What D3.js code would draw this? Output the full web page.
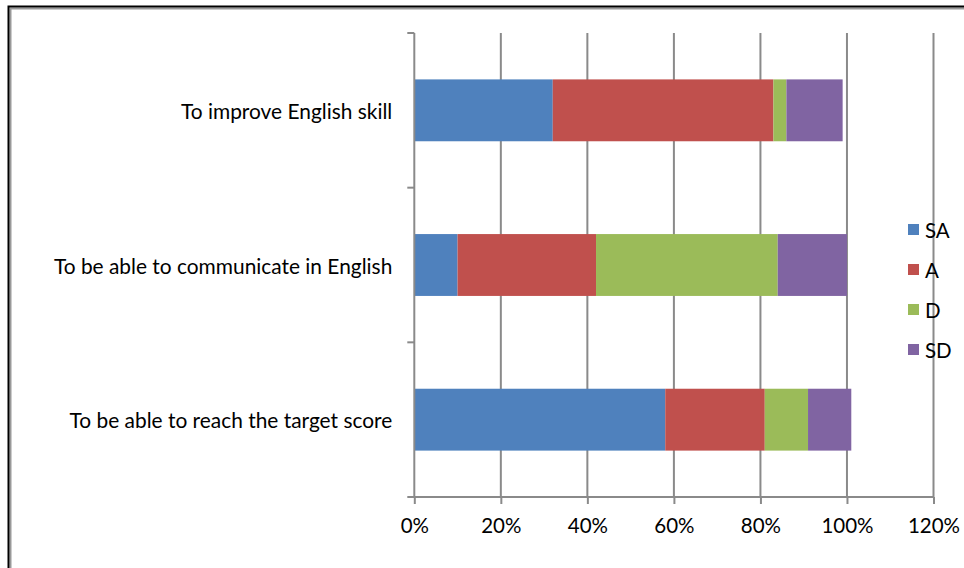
<!DOCTYPE html>
<html>
<head>
<meta charset="utf-8">
<script src="https://cdn.jsdelivr.net/npm/d3@7"></script>
<style>
  html, body { margin: 0; padding: 0; background: #fff; }
  svg { display: block; }
  text { font-family: Lato, "Open Sans", sans-serif; fill: #000; }
</style>
</head>
<body>
<svg id="chart" width="964" height="568"></svg>
<script>
// Survey statements, top to bottom
const categories = [
  "To improve English skill",
  "To be able to communicate in English",
  "To be able to reach the target score"
];
// Share of responses per statement (%)
const seriesNames = ["SA", "A", "D", "SD"];
const SA = [32, 10, 58];
const A  = [51, 32, 23];
const D  = [3, 42, 10];
const SD = [13, 16, 10];
const colors = ["#4f81bd", "#c0504d", "#9bbb59", "#8064a2"];
const xTicks = [0, 20, 40, 60, 80, 100, 120];

const FONT = "20.5px";
const LABEL_FONT = "20.9px";
const svg = d3.select("#chart");
const W = 964, H = 568;

// chart frame
svg.append("rect").attr("x", 10.5).attr("y", 8.5).attr("width", W).attr("height", H)
  .attr("fill", "none").attr("stroke", "#999").attr("stroke-width", 2);
svg.append("rect").attr("x", 8.5).attr("y", 6.5).attr("width", W).attr("height", H)
  .attr("fill", "none").attr("stroke", "#000").attr("stroke-width", 2);

const x = d3.scaleLinear().domain([0, 120]).range([414.3, 933.5]);
const y = d3.scaleBand().domain(categories).range([33, 497]).paddingInner(0.6).paddingOuter(0.3);

const rows = categories.map((c, i) => ({ cat: c, vals: [SA[i], A[i], D[i], SD[i]] }));
const stack = d3.stack().keys([0, 1, 2, 3]).value((d, k) => d.vals[k]);
const layers = stack(rows);

// vertical gridlines
svg.append("g").selectAll("line").data(xTicks.slice(1)).join("line")
  .attr("x1", d => x(d)).attr("x2", d => x(d))
  .attr("y1", 33).attr("y2", 497)
  .attr("stroke", "#8a8a8a").attr("stroke-width", 2);

// stacked bars
layers.forEach((layer, k) => {
  svg.append("g").selectAll("rect").data(layer).join("rect")
    .attr("x", d => x(d[0]))
    .attr("width", d => x(d[1]) - x(d[0]))
    .attr("y", d => y(d.data.cat))
    .attr("height", y.bandwidth())
    .attr("fill", colors[k]);
});

// x axis
const xAxis = d3.axisBottom(x).tickValues(xTicks).tickFormat(d => d + "%")
  .tickSize(7).tickSizeOuter(0).tickPadding(14);
const gx = svg.append("g").attr("transform", "translate(0,497)").call(xAxis);
gx.select(".domain").attr("stroke", "#8a8a8a").attr("stroke-width", 2)
  .attr("d", `M${x(0) - 6},0H${x(120)}`);
gx.selectAll(".tick line").attr("stroke", "#8a8a8a").attr("stroke-width", 2);
gx.selectAll(".tick text").style("font-size", FONT)
  .style("font-family", "Lato, 'Open Sans', sans-serif").attr("fill", "#000");

// y axis with ticks at band boundaries
const gy = svg.append("g").attr("transform", `translate(${x(0)},0)`);
gy.append("line").attr("y1", 33).attr("y2", 497).attr("stroke", "#8a8a8a").attr("stroke-width", 2);
const boundaryYs = d3.range(categories.length + 1).map(i => 33 + i * (497 - 33) / categories.length);
gy.selectAll("line.bt").data(boundaryYs).join("line").attr("class", "bt")
  .attr("x1", -7).attr("x2", 0).attr("y1", d => d).attr("y2", d => d)
  .attr("stroke", "#8a8a8a").attr("stroke-width", 2);
gy.selectAll("text").data(categories).join("text")
  .attr("x", -22).attr("y", d => y(d) + y.bandwidth() / 2)
  .attr("text-anchor", "end").attr("dominant-baseline", "central")
  .style("font-size", LABEL_FONT).text(d => d);

// legend
const lg = svg.append("g");
seriesNames.forEach((n, i) => {
  const cy = 229.5 + i * 40;
  lg.append("rect").attr("x", 908).attr("y", cy - 5.5).attr("width", 11).attr("height", 11).attr("fill", colors[i]);
  lg.append("text").attr("x", 925).attr("y", cy).attr("dominant-baseline", "central")
    .style("font-size", FONT).text(n);
});
</script>
</body>
</html>
